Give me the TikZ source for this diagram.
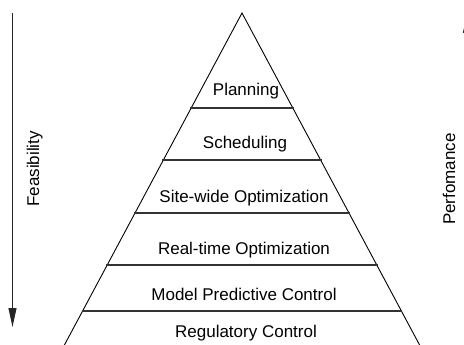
\documentclass[tikz,border=0pt]{standalone}
\usepackage{fontspec}
\setmainfont{Liberation Sans}
\usetikzlibrary{arrows.meta}
\begin{document}
\begin{tikzpicture}[x=1pt,y=-1pt,
  side/.style={draw=black,line width=0.9pt},
  level/.style={draw=black!80,line width=1.6pt},
  axisarrow/.style={draw=black!85,line width=1pt,-{Triangle[length=19pt,width=8pt]}},
  layer/.style={font=\fontsize{17}{20}\selectfont,anchor=base,inner sep=0pt},
  axislabel/.style={font=\fontsize{17}{20}\selectfont,anchor=base,rotate=90,inner sep=0pt}]
\useasboundingbox (0,0) rectangle (464,345);
% pyramid outline (extends past the lower edge)
\coordinate (apex) at (242,13);
\coordinate (bl) at (58,357);
\coordinate (br) at (426,357);
\draw[side] (bl) -- (apex) -- (br);
% level dividers, ends on the pyramid sides (half-slope 0.535)
\foreach \y in {108,160,213,265,311}{
  \draw[level] ({242-0.535*(\y-13)-1},\y) -- ({242+0.535*(\y-13)+1},\y);
}
% layer names
\node[layer] (plan)  at (246,96)  {Planning};
\node[layer] (sched) at (245,149) {Scheduling};
\node[layer] (site)  at (244,202) {Site-wide Optimization};
\node[layer] (rto)   at (244,254) {Real-time Optimization};
\node[layer] (mpc)   at (244,300) {Model Predictive Control};
\node[layer] (reg)   at (246,337) {Regulatory Control};
% side axes
\coordinate (fTop) at (12.5,13);
\coordinate (fBot) at (12.5,327);
\draw[axisarrow] (fTop) -- (fBot);
\node[axislabel] (feas) at (39,169) {Feasibility};
\coordinate (pBot) at (467,327);
\coordinate (pTop) at (467,14);
\draw[axisarrow] (pBot) -- (pTop);
\node[axislabel] (perf) at (455,179) {Perfomance};
\end{tikzpicture}
\end{document}
